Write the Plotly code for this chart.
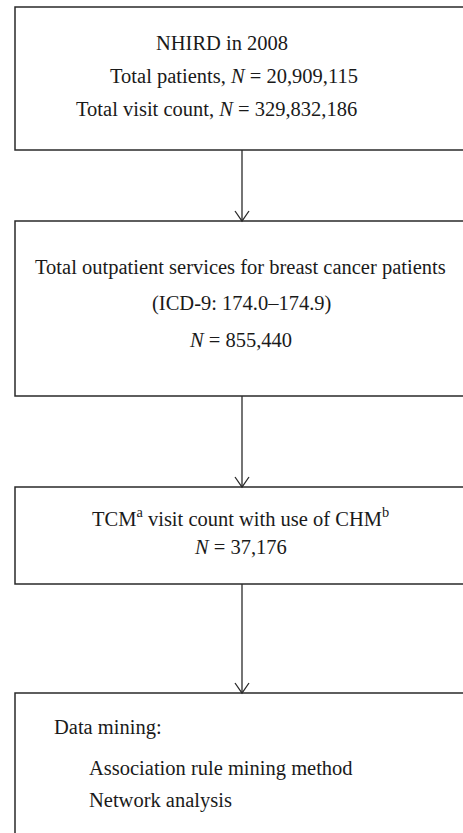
import plotly.graph_objects as go

# ---- data (text content of the flowchart) ----
box1_lines = ["NHIRD in 2008",
              "Total patients, <i>N</i> = 20,909,115",
              "Total visit count, <i>N</i> = 329,832,186"]
box2_lines = ["Total outpatient services for breast cancer patients",
              "(ICD-9: 174.0–174.9)",
              "<i>N</i> = 855,440"]
box3_lines = ["TCM<sup>a</sup> visit count with use of CHM<sup>b</sup>",
              "<i>N</i> = 37,176"]
box4_lines = ["Data mining:",
              "Association rule mining method",
              "Network analysis"]

# ---- layout geometry ----
W, H = 463, 833
boxes = [(15, 7, 480, 150), (15, 221, 480, 396), (15, 487, 480, 584), (15, 693, 480, 860)]
arrow_x = 242
line_col = "#2a2a2a"
font_fam = "Liberation Serif, Times New Roman, serif"
fs = 20.5

fig = go.Figure()
shapes = []
for (x0, y0, x1, y1) in boxes:
    shapes.append(dict(type="rect", x0=x0, y0=y0, x1=x1, y1=y1, xref="x", yref="y",
                       line=dict(color=line_col, width=1.5), fillcolor="rgba(0,0,0,0)"))
for i in range(3):
    ya = boxes[i][3]
    yb = boxes[i + 1][1]
    shapes.append(dict(type="line", x0=arrow_x, x1=arrow_x, y0=ya, y1=yb, xref="x", yref="y",
                       line=dict(color=line_col, width=1.3)))
    shapes.append(dict(type="path", path=f"M {arrow_x-7},{yb-10} L {arrow_x},{yb} L {arrow_x+7},{yb-10}",
                       xref="x", yref="y", line=dict(color=line_col, width=1.3)))

annotations = []
def add(text, x, y, anchor="center"):
    annotations.append(dict(text=text, x=x, y=y, xref="x", yref="y", showarrow=False,
                            xanchor=anchor, yanchor="middle",
                            font=dict(family=font_fam, size=fs, color="#1a1a1a")))

add(box1_lines[0], 222, 43)
add(box1_lines[1], 234, 76)
add(box1_lines[2], 216, 109)
add(box2_lines[0], 240, 267)
add(box2_lines[1], 241, 303)
add(box2_lines[2], 240, 340)
add(box3_lines[0], 240, 517)
add(box3_lines[1], 240, 547)
add(box4_lines[0], 52, 727, "left")
add(box4_lines[1], 87, 768, "left")
add(box4_lines[2], 87, 800, "left")

fig.update_layout(
    width=W, height=H, margin=dict(l=0, r=0, t=0, b=0),
    paper_bgcolor="white", plot_bgcolor="white",
    xaxis=dict(range=[0, W], visible=False, fixedrange=True),
    yaxis=dict(range=[H, 0], visible=False, fixedrange=True),
    shapes=shapes, annotations=annotations, showlegend=False,
)
fig.write_html("out.html", config={"displayModeBar": False},
               post_script="document.body.style.margin='0';document.body.style.overflow='hidden';")
